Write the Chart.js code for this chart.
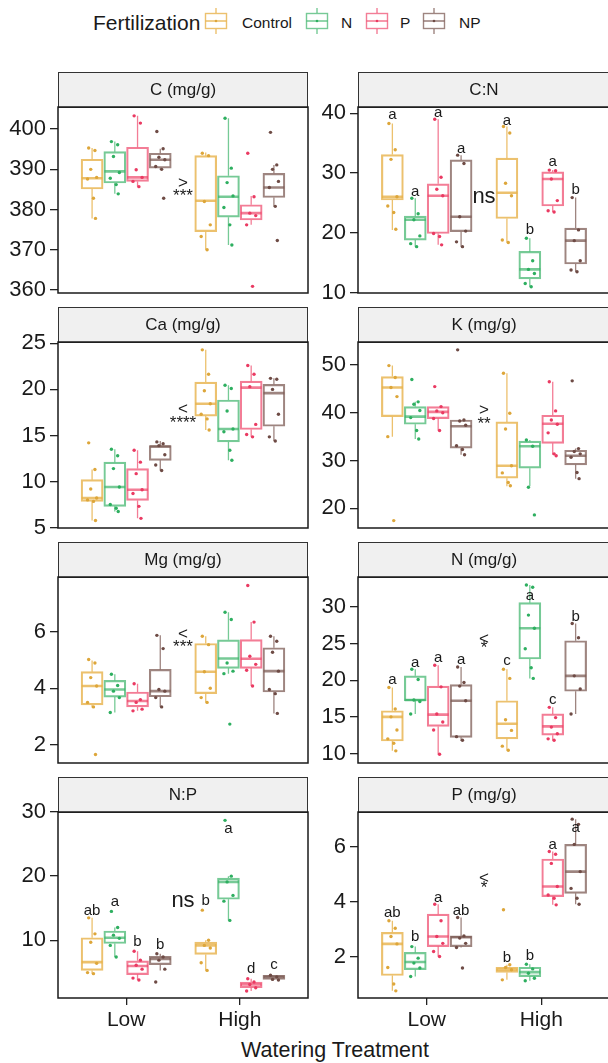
<!DOCTYPE html>
<html>
<head>
<meta charset="utf-8">
<script src="https://cdn.jsdelivr.net/npm/chart.js@4.4.1/dist/chart.umd.min.js"></script>
<style>
  body { margin: 0; width: 608px; height: 1063px; overflow: hidden; position: relative; background: #fff;
         font-family: "Liberation Sans", Arial, sans-serif; color: #1a1a1a; }
  canvas { position: absolute; }
  .txt { position: absolute; white-space: nowrap; }
</style>
</head>
<body>
<div id="legend"></div>
<div class="txt" style="left:335px; top:1040px; font-size:21.5px; line-height:21.5px; transform:translateX(-50%);">Watering Treatment</div>
<script>
// groups and treatments
const groups = ['Control', 'N', 'P', 'NP'];
const watering = ['Low', 'High'];
const boxColors = ['rgba(231,178,74,0.8)', 'rgba(60,180,105,0.7)', 'rgba(238,70,105,0.7)', 'rgba(125,92,86,0.75)'];
const pointColors = ['#DDA63A', '#2EAF60', '#EA3A62', '#6E4B45'];

// rows: Low Control, Low N, Low P, Low NP, High Control, High N, High P, High NP
// box rows: [lower whisker, q1, median, q3, upper whisker]

// C (mg/g)
const cTicks = [360, 370, 380, 390, 400];
const cRange = [359.25, 405.5];
const cBox = [
  [377.8, 385.1, 387.8, 392.5, 395.3],
  [383.9, 386.6, 389.5, 394.4, 396.9],
  [385.7, 387.0, 388.0, 395.5, 403.3],
  [390.0, 390.3, 392.4, 394.0, 395.1],
  [370.0, 374.5, 382.2, 393.4, 394.2],
  [371.2, 378.1, 383.2, 388.4, 402.7],
  [376.2, 377.4, 379.1, 381.2, 383.4],
  [380.8, 383.0, 385.5, 389.0, 391.1]
];
const cPts = [
  [395.3, 394.7, 390.0, 388.0, 387.6, 382.8, 377.8],
  [396.9, 396.1, 393.2, 389.2, 387.8, 386.2, 383.9],
  [403.3, 401.5, 389.9, 388.0, 387.0, 385.7],
  [399.4, 395.1, 393.0, 392.4, 390.7, 390.0, 382.8],
  [394.0, 393.4, 382.0, 376.2, 373.3, 370.0],
  [402.7, 390.3, 386.7, 383.4, 380.5, 376.2, 371.2],
  [394.0, 383.2, 379.1, 378.5, 376.2, 360.9],
  [399.2, 391.1, 390.0, 387.0, 385.5, 380.8, 372.3]
];
const cSig = ['>', '***'];
const cSigY = [386.6, 383.4];

// C:N
const cnTicks = [10, 20, 30, 40];
const cnRange = [9.95, 41.05];
const cnBox = [
  [20.5, 25.5, 26.05, 33.1, 38.3],
  [17.7, 18.8, 22.2, 22.8, 25.8],
  [18.0, 19.9, 26.2, 28.2, 39.0],
  [17.7, 20.2, 22.7, 32.2, 33.0],
  [18.4, 22.4, 26.7, 32.5, 37.8],
  [11.0, 12.3, 13.9, 16.9, 19.1],
  [23.5, 24.5, 29.0, 30.2, 30.5],
  [13.5, 14.8, 18.7, 20.8, 25.9]
];
const cnPts = [
  [38.3, 33.9, 32.3, 26.05, 24.5, 23.4, 20.6],
  [25.8, 23.2, 22.2, 19.5, 18.2, 17.7],
  [39.0, 29.3, 27.3, 26.2, 19.9, 19.4, 18.0],
  [33.0, 31.6, 22.7, 20.3, 18.5, 17.7],
  [37.8, 36.7, 28.3, 26.2, 18.8, 18.4],
  [19.1, 15.35, 13.9, 13.2, 11.55, 11.0],
  [30.5, 30.4, 29.0, 25.4, 23.7, 23.5],
  [25.9, 20.5, 18.7, 15.35, 13.8, 13.5]
];
const cnLetters = ['a', 'a', 'a', 'a', 'a', 'b', 'a', 'b'];
const cnLetterY = [39.7, 26.9, 40.0, 34.0, 38.8, 20.5, 31.9, 27.2];
const cnSig = ['ns'];
const cnSigY = [26.05];

// Ca (mg/g)
const caTicks = [5, 10, 15, 20, 25];
const caRange = [4.95, 25.15];
const caBox = [
  [5.76, 7.84, 8.2, 10.2, 11.3],
  [6.75, 7.3, 9.4, 12.1, 13.5],
  [6.0, 7.95, 9.1, 11.4, 13.4],
  [11.2, 12.3, 13.8, 13.9, 14.4],
  [15.6, 17.1, 18.45, 20.8, 24.3],
  [12.3, 14.3, 15.7, 18.85, 20.45],
  [14.85, 15.65, 20.2, 20.9, 22.6],
  [14.4, 16.0, 19.6, 20.55, 21.2]
];
const caPts = [
  [14.2, 11.3, 9.18, 8.2, 8.0, 7.84, 5.76],
  [13.5, 12.8, 11.4, 9.4, 7.5, 7.1, 6.75],
  [13.4, 12.1, 10.85, 9.1, 8.7, 7.3, 6.0],
  [14.3, 14.1, 13.9, 12.9, 11.8, 11.2],
  [24.3, 21.65, 19.85, 18.45, 17.3, 16.8, 15.6],
  [20.45, 20.1, 17.65, 15.7, 15.4, 13.4, 12.3],
  [22.6, 21.65, 20.3, 16.2, 15.1, 14.85],
  [21.2, 21.1, 20.0, 17.3, 14.85, 14.4]
];
const caSig = ['<', '****'];
const caSigY = [17.8, 16.3];

// K (mg/g)
const kTicks = [20, 30, 40, 50];
const kRange = [15.85, 54.85];
const kBox = [
  [35.0, 39.2, 45.3, 47.6, 49.9],
  [34.5, 37.6, 39.2, 41.3, 42.3],
  [36.3, 38.8, 40.2, 41.3, 41.3],
  [31.2, 32.6, 37.2, 38.5, 38.5],
  [24.6, 26.3, 28.9, 38.1, 48.3],
  [24.6, 28.4, 33.0, 34.05, 34.3],
  [31.2, 33.6, 37.7, 39.5, 46.5],
  [26.2, 29.1, 31.0, 32.15, 32.5]
];
const kPts = [
  [49.9, 47.4, 45.3, 43.4, 35.0, 17.4],
  [47.0, 42.3, 41.8, 40.5, 39.0, 36.3, 34.5],
  [45.5, 41.3, 40.4, 40.0, 38.8, 36.3],
  [53.2, 38.5, 38.3, 37.4, 33.1, 32.3, 31.2],
  [48.3, 39.9, 36.6, 28.9, 27.4, 25.4, 24.7],
  [34.3, 33.0, 24.4, 18.6],
  [46.5, 40.4, 38.5, 37.6, 35.8, 31.4, 31.0],
  [46.7, 32.5, 31.9, 31.4, 30.7, 27.5, 26.2]
];
const kSig = ['>', '**'];
const kSigY = [40.6, 37.6];

// Mg (mg/g)
const mgTicks = [2, 4, 6];
const mgRange = [1.35, 7.95];
const mgBox = [
  [3.32, 3.41, 4.08, 4.59, 4.99],
  [3.14, 3.69, 3.96, 4.28, 4.5],
  [3.2, 3.34, 3.55, 3.87, 4.16],
  [3.34, 3.7, 3.9, 4.67, 5.88],
  [3.5, 3.81, 4.59, 5.59, 5.85],
  [4.52, 4.71, 5.06, 5.72, 6.7],
  [4.08, 4.71, 5.05, 5.73, 6.35],
  [3.11, 3.87, 4.61, 5.44, 5.85]
];
const mgPts = [
  [5.02, 4.9, 4.38, 4.08, 3.5, 3.34, 1.65],
  [4.5, 4.1, 3.9, 3.67, 3.14],
  [4.16, 3.6, 3.5, 3.26, 3.2],
  [5.88, 5.41, 3.96, 3.9, 3.67, 3.34],
  [5.85, 5.55, 4.59, 4.0, 3.67, 3.5],
  [6.7, 6.44, 4.9, 4.61, 4.52, 2.73],
  [7.65, 6.35, 5.14, 4.85, 4.64, 4.08],
  [5.85, 5.67, 5.28, 4.61, 3.96, 3.81, 3.11]
];
const mgSig = ['<', '***'];
const mgSigY = [5.9, 5.44];

// N (mg/g)
const nTicks = [10, 15, 20, 25, 30];
const nRange = [8.7, 34.1];
const nBox = [
  [10.36, 11.7, 15.0, 15.84, 19.0],
  [15.4, 17.2, 17.3, 20.6, 21.5],
  [9.9, 13.7, 15.3, 19.2, 22.05],
  [11.7, 12.2, 17.2, 19.4, 21.8],
  [10.45, 12.0, 14.05, 17.2, 21.5],
  [20.25, 22.9, 27.1, 30.6, 33.0],
  [11.8, 12.5, 13.7, 15.4, 16.3],
  [15.4, 18.5, 20.6, 25.4, 27.75]
];
const nPts = [
  [19.0, 16.07, 15.0, 13.2, 12.0, 11.4, 10.36],
  [21.5, 20.1, 17.3, 17.1, 15.4],
  [22.05, 19.1, 15.4, 14.3, 13.2, 9.9],
  [21.8, 19.7, 19.2, 17.2, 12.3, 11.8],
  [21.5, 20.25, 14.6, 13.15, 11.0, 10.45],
  [33.0, 32.7, 28.9, 27.1, 24.3, 21.7, 20.25],
  [16.3, 14.9, 13.6, 12.7, 12.0, 11.8],
  [27.75, 25.8, 20.6, 18.8, 15.4]
];
const nLetters = ['a', 'a', 'a', 'a', 'c', 'a', 'c', 'b'];
const nLetterY = [20.1, 22.4, 23.1, 22.8, 22.6, 31.5, 17.3, 28.7];
const nSig = ['<', '*'];
const nSigY = [25.6, 24.4];

// N:P
const npTicks = [10, 20, 30];
const npRange = [1.0, 30.0];
const npBox = [
  [4.8, 5.3, 6.6, 10.4, 13.5],
  [7.4, 9.5, 10.4, 11.45, 12.0],
  [3.8, 4.65, 6.0, 6.8, 8.3],
  [5.3, 6.2, 7.1, 7.5, 7.9],
  [5.3, 7.8, 9.2, 9.7, 10.0],
  [13.1, 16.4, 19.1, 19.7, 20.0],
  [2.1, 2.6, 3.1, 3.5, 4.0],
  [3.8, 3.9, 4.3, 4.55, 4.55]
];
const npPts = [
  [13.5, 11.0, 9.7, 6.4, 4.96, 4.8],
  [14.5, 12.0, 10.8, 10.3, 9.2, 7.4],
  [8.3, 6.9, 6.1, 5.5, 4.1, 3.8],
  [7.9, 7.4, 6.9, 5.5, 3.5],
  [14.7, 10.0, 9.2, 8.8, 6.5, 5.3],
  [28.7, 20.0, 19.1, 17.0, 16.1, 13.1],
  [4.0, 3.5, 3.1, 2.6, 2.1],
  [4.55, 4.3, 3.9, 3.8]
];
const npLetters = ['ab', 'a', 'b', 'b', 'b', 'a', 'd', 'c'];
const npLetterY = [14.6, 16.0, 9.8, 9.3, 16.2, 27.4, 5.5, 6.2];
const npSig = ['ns'];
const npSigY = [16.2];

// P (mg/g)
const pTicks = [2, 4, 6];
const pRange = [0.49, 7.26];
const pBox = [
  [0.75, 1.31, 2.46, 2.88, 3.3],
  [1.27, 1.52, 1.8, 2.15, 2.36],
  [2.0, 2.36, 2.73, 3.54, 3.9],
  [2.33, 2.36, 2.7, 2.75, 3.42],
  [1.15, 1.42, 1.52, 1.61, 1.7],
  [1.12, 1.27, 1.43, 1.61, 1.72],
  [3.88, 4.18, 4.55, 5.55, 5.82],
  [3.9, 4.3, 5.09, 6.08, 7.0]
];
const pPts = [
  [3.3, 3.03, 2.73, 2.46, 1.6, 1.0, 0.75],
  [2.36, 1.94, 1.76, 1.58, 1.27],
  [3.9, 3.3, 2.73, 2.48, 2.18, 2.0],
  [3.42, 2.75, 2.67, 2.48, 2.33, 1.58],
  [3.7, 1.7, 1.6, 1.52, 1.15],
  [1.72, 1.55, 1.39, 1.21, 1.12],
  [5.82, 5.72, 5.39, 4.55, 4.24, 4.12, 3.88],
  [7.0, 6.81, 6.08, 5.09, 4.48, 4.12, 3.9]
];
const pLetters = ['ab', 'b', 'a', 'ab', 'b', 'b', 'a', 'a'];
const pLetterY = [3.6, 2.7, 4.15, 3.66, 1.96, 2.04, 6.06, 6.7];
const pSig = ['<', '*'];
const pSigY = [4.85, 4.48];

const panels = [
  { title: 'C (mg/g)', col: 0, row: 0, ticks: cTicks, range: cRange, box: cBox, pts: cPts, sig: cSig, sigY: cSigY },
  { title: 'C:N', col: 1, row: 0, ticks: cnTicks, range: cnRange, box: cnBox, pts: cnPts, letters: cnLetters, letterY: cnLetterY, sig: cnSig, sigY: cnSigY },
  { title: 'Ca (mg/g)', col: 0, row: 1, ticks: caTicks, range: caRange, box: caBox, pts: caPts, sig: caSig, sigY: caSigY },
  { title: 'K (mg/g)', col: 1, row: 1, ticks: kTicks, range: kRange, box: kBox, pts: kPts, sig: kSig, sigY: kSigY },
  { title: 'Mg (mg/g)', col: 0, row: 2, ticks: mgTicks, range: mgRange, box: mgBox, pts: mgPts, sig: mgSig, sigY: mgSigY },
  { title: 'N (mg/g)', col: 1, row: 2, ticks: nTicks, range: nRange, box: nBox, pts: nPts, letters: nLetters, letterY: nLetterY, sig: nSig, sigY: nSigY },
  { title: 'N:P', col: 0, row: 3, ticks: npTicks, range: npRange, box: npBox, pts: npPts, letters: npLetters, letterY: npLetterY, sig: npSig, sigY: npSigY },
  { title: 'P (mg/g)', col: 1, row: 3, ticks: pTicks, range: pRange, box: pBox, pts: pPts, letters: pLetters, letterY: pLetterY, sig: pSig, sigY: pSigY }
];

// layout
const FONT = '"Liberation Sans", Arial, sans-serif';
const dodge = [-0.3, -0.1, 0.1, 0.3];
const jitter = [-0.03, 0.025, -0.012, 0.04, -0.04, 0.012, 0.03, -0.022];
const colLeft = [0, 300], colWidth = [312, 320], padRight = [4, 10];
const rowTop = [72, 307, 542, 777];
const STRIP = 35, PLOT_H = 186, AXIS_H = 40, PAD_B = 20;

Chart.defaults.font.family = FONT;
Chart.defaults.color = '#1a1a1a';

// legend
const legend = document.getElementById('legend');
const keyLeft = [205, 306, 366, 423];
const labelLeft = [242, 341, 400, 459];
legend.innerHTML = '<div class="txt" style="left:93px;top:12px;font-size:21px;line-height:21px">Fertilization</div>' +
  groups.map((g, i) =>
    `<svg style="position:absolute;left:${keyLeft[i] - 2}px;top:6px" width="26" height="30">
       <line x1="13" y1="2" x2="13" y2="7" stroke="${boxColors[i]}" stroke-width="1.4"/>
       <line x1="13" y1="23" x2="13" y2="28" stroke="${boxColors[i]}" stroke-width="1.4"/>
       <rect x="2.5" y="7.5" width="21" height="15" fill="none" stroke="${boxColors[i]}" stroke-width="1.4"/>
       <line x1="2.5" y1="15" x2="23.5" y2="15" stroke="${boxColors[i]}" stroke-width="1.6"/>
       <circle cx="13" cy="15" r="1.3" fill="${pointColors[i]}"/>
     </svg>
     <div class="txt" style="left:${labelLeft[i]}px;top:15px;font-size:15.5px;line-height:15.5px">${g}</div>`
  ).join('');

function makePanel(p) {
  const bottom = p.row === 3;
  const cv = document.createElement('canvas');
  cv.width = colWidth[p.col];
  cv.height = STRIP + PLOT_H + (bottom ? AXIS_H : PAD_B);
  cv.style.left = colLeft[p.col] + 'px';
  cv.style.top = rowTop[p.row] + 'px';
  document.body.appendChild(cv);

  const datasets = [];
  groups.forEach((g, gi) => {
    const idx = [gi, gi + 4];
    const xs = [1 + dodge[gi], 2 + dodge[gi]];
    const whisk = [], med = [], pts = [];
    idx.forEach((k, w) => {
      const b = p.box[k], x = xs[w];
      whisk.push({ x, y: b[3] }, { x, y: b[4] }, { x, y: null }, { x, y: b[1] }, { x, y: b[0] }, { x, y: null });
      med.push({ x: x - 0.092, y: b[2] }, { x: x + 0.092, y: b[2] }, { x, y: null });
      p.pts[k].forEach((v, j) => pts.push({ x: x + jitter[j % jitter.length], y: v }));
    });
    datasets.push({
      type: 'bar', label: g, order: 3,
      data: idx.map((k, w) => ({ x: xs[w], y: [p.box[k][1], p.box[k][3]] })),
      backgroundColor: 'rgba(255,255,255,0)', borderColor: boxColors[gi], borderWidth: 1.5,
      borderSkipped: false, barThickness: 22, grouped: false
    });
    datasets.push({
      type: 'line', order: 2, data: whisk, borderColor: boxColors[gi], borderWidth: 1.3,
      pointRadius: 0, spanGaps: false, fill: false
    });
    datasets.push({
      type: 'line', order: 1, data: med, borderColor: boxColors[gi], borderWidth: 2.6,
      pointRadius: 0, spanGaps: false, fill: false
    });
    datasets.push({
      type: 'scatter', order: 0, data: pts, pointRadius: 1.7,
      pointBackgroundColor: pointColors[gi], pointBorderWidth: 0
    });
  });

  const panelPlugin = {
    id: 'panel',
    afterDatasetsDraw(chart) {
      const ctx = chart.ctx, xs = chart.scales.x, ys = chart.scales.y;
      ctx.save();
      ctx.fillStyle = '#1a1a1a';
      ctx.textAlign = 'center';
      ctx.textBaseline = 'middle';
      if (p.letters) {
        ctx.font = '15px ' + FONT;
        p.letters.forEach((t, i) => {
          const x = xs.getPixelForValue((i < 4 ? 1 : 2) + dodge[i % 4]);
          ctx.fillText(t, x, ys.getPixelForValue(p.letterY[i]));
        });
      }
      p.sig.forEach((t, i) => {
        ctx.font = (t === 'ns' ? '22px ' : '17px ') + FONT;
        ctx.fillText(t, xs.getPixelForValue(1.5), ys.getPixelForValue(p.sigY[i]));
      });
      ctx.restore();
    },
    afterDraw(chart) {
      const ctx = chart.ctx, a = chart.chartArea;
      ctx.save();
      ctx.fillStyle = '#F0F0F0';
      ctx.fillRect(a.left, a.top - STRIP, a.right - a.left, STRIP);
      ctx.strokeStyle = '#333';
      ctx.lineWidth = 1;
      ctx.strokeRect(a.left + 0.5, a.top - STRIP + 0.5, a.right - a.left - 1, STRIP);
      ctx.strokeStyle = '#1a1a1a';
      ctx.lineWidth = 1.5;
      ctx.strokeRect(a.left, a.top, a.right - a.left, a.bottom - a.top);
      ctx.fillStyle = '#1a1a1a';
      ctx.font = '17px ' + FONT;
      ctx.textAlign = 'center';
      ctx.textBaseline = 'middle';
      ctx.fillText(p.title, (a.left + a.right) / 2, a.top - STRIP / 2 + 1);
      ctx.restore();
    }
  };

  new Chart(cv, {
    type: 'bar',
    data: { datasets },
    options: {
      responsive: false,
      animation: false,
      events: [],
      layout: { padding: { top: STRIP, bottom: bottom ? 0 : PAD_B, left: 0, right: padRight[p.col] } },
      plugins: { legend: { display: false }, tooltip: { enabled: false } },
      scales: {
        x: {
          type: 'linear', min: 0.4, max: 2.6, offset: false, display: bottom,
          afterBuildTicks: s => { s.ticks = [{ value: 1 }, { value: 2 }]; },
          afterFit: s => { if (bottom) s.height = AXIS_H; },
          ticks: { callback: v => watering[Math.round(v) - 1], font: { size: 21 }, color: '#1a1a1a', padding: 3, maxRotation: 0, autoSkip: false },
          grid: { offset: false, drawOnChartArea: false, drawTicks: true, tickLength: 7, tickColor: '#222', lineWidth: 1.3 },
          border: { display: false }
        },
        y: {
          type: 'linear', min: p.range[0], max: p.range[1],
          afterBuildTicks: s => { s.ticks = p.ticks.map(v => ({ value: v })); },
          afterFit: s => { s.width = 58; },
          ticks: { font: { size: 22 }, color: '#1a1a1a', padding: 4 },
          grid: { drawOnChartArea: false, drawTicks: true, tickLength: 8, tickColor: '#222', lineWidth: 1.3 },
          border: { display: false }
        }
      }
    },
    plugins: [panelPlugin]
  });
}

panels.forEach(makePanel);
</script>
</body>
</html>
